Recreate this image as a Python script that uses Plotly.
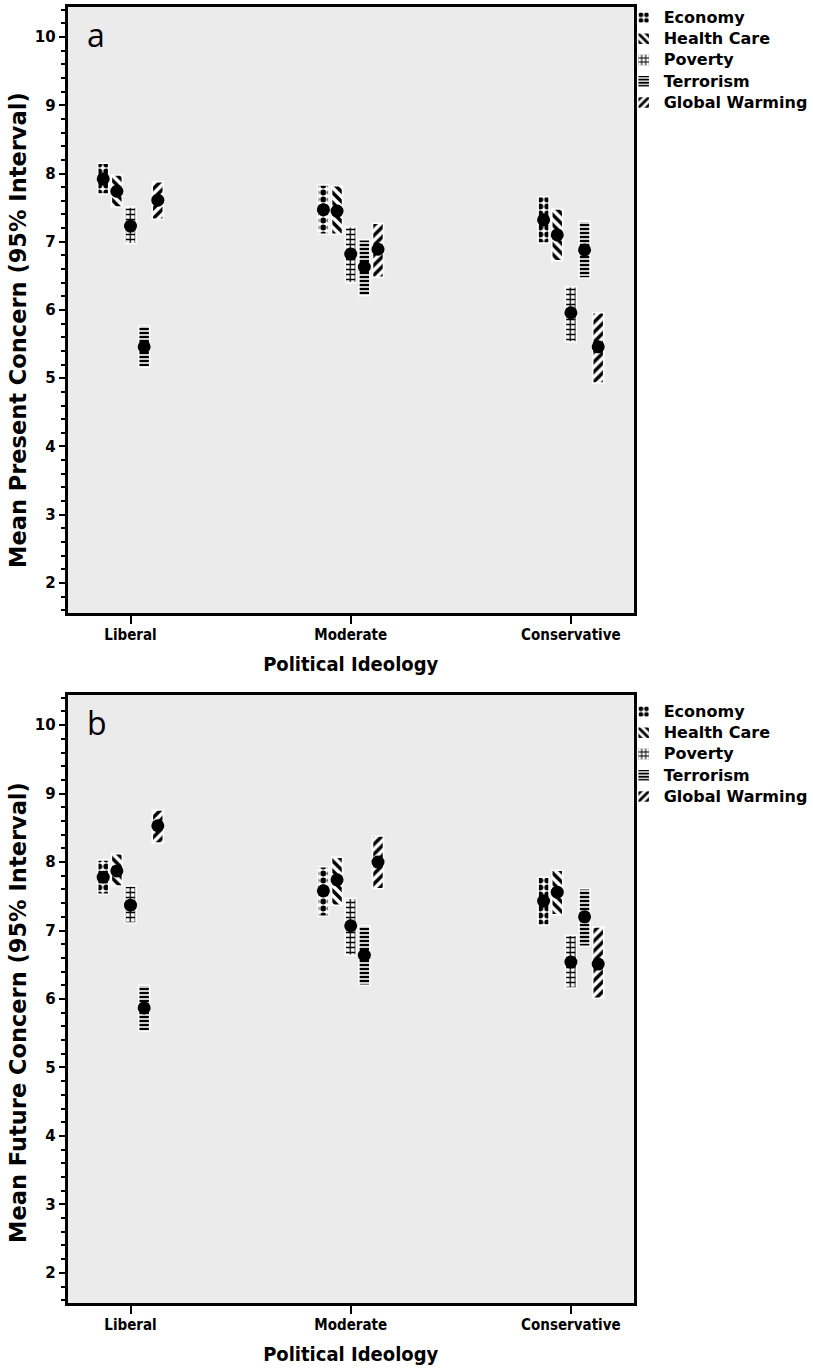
import plotly.graph_objects as go

ideology = ["Liberal", "Moderate", "Conservative"]
issues = ["Economy", "Health Care", "Poverty", "Terrorism", "Global Warming"]
patterns = [".", "\\", "+", "-", "/"]
pattern_size = [7, 7, 5, 4, 7]
pattern_solidity = [0.55, 0.5, 0.45, 0.6, 0.5]

# Panel a: present concern (rows = issues, cols = ideology)
present_mean = [[7.92, 7.47, 7.32], [7.74, 7.45, 7.10], [7.23, 6.82, 5.96],
                [5.46, 6.63, 6.88], [7.61, 6.89, 5.46]]
present_low = [[7.70, 7.11, 6.98], [7.51, 7.11, 6.72], [6.97, 6.40, 5.53],
               [5.16, 6.21, 6.47], [7.33, 6.48, 4.93]]
present_high = [[8.15, 7.83, 7.66], [7.98, 7.82, 7.48], [7.51, 7.22, 6.34],
                [5.77, 7.03, 7.30], [7.88, 7.27, 5.96]]

# Panel b: future concern
future_mean = [[7.78, 7.58, 7.43], [7.87, 7.74, 7.56], [7.37, 7.07, 6.54],
               [5.87, 6.64, 7.20], [8.53, 8.00, 6.51]]
future_low = [[7.53, 7.21, 7.08], [7.65, 7.37, 7.23], [7.11, 6.64, 6.16],
              [5.53, 6.20, 6.77], [8.28, 7.61, 6.01]]
future_high = [[8.03, 7.93, 7.78], [8.12, 8.07, 7.88], [7.65, 7.47, 6.93],
               [6.20, 7.07, 7.61], [8.76, 8.38, 7.05]]

y_ticks = [2, 3, 4, 5, 6, 7, 8, 9, 10]
y_titles = ["Mean Present Concern (95% Interval)", "Mean Future Concern (95% Interval)"]

W, H = 813, 1369
fig = go.Figure()

panels = [
    ("x", "y", "legend", present_mean, present_low, present_high),
    ("x2", "y2", "legend2", future_mean, future_low, future_high),
]
for xa, ya, leg, means, lows, highs in panels:
    for i, name in enumerate(issues):
        fig.add_trace(go.Bar(
            x=ideology, y=[h - l for h, l in zip(highs[i], lows[i])], base=lows[i],
            name="<span style='font-size:16px'>%s</span>" % name,
            offsetgroup=name, legendgroup=name, legend=leg,
            xaxis=xa, yaxis=ya,
            marker=dict(color="white", line=dict(color="white", width=1.5),
                        pattern=dict(shape=patterns[i], fgcolor="black", bgcolor="white",
                                     fgopacity=1, size=pattern_size[i],
                                     solidity=pattern_solidity[i],
                                     fillmode="replace")),
            hoverinfo="skip",
        ))
    for i, name in enumerate(issues):
        fig.add_trace(go.Scatter(
            x=ideology, y=means[i], mode="markers", offsetgroup=name,
            legendgroup=name, showlegend=False, xaxis=xa, yaxis=ya,
            marker=dict(color="black", size=13), hoverinfo="skip",
        ))

def px_x(p):
    return p / W

def px_y(p):
    return 1 - p / H

font_bold = dict(family="DejaVu Sans", color="black", weight="bold")
narrow_bold = dict(family="DejaVu Sans Condensed, DejaVu Sans", color="black", weight="bold")

xaxis_common = dict(
    type="category", range=[-0.285, 2.285], showline=True, linewidth=3,
    linecolor="black", mirror=True, ticks="outside", ticklen=8, tickwidth=2,
    tickcolor="black", showgrid=False, zeroline=False, ticklabelstandoff=-2,
    tickfont=dict(size=15, **narrow_bold),
    title=dict(text="Political Ideology", font=dict(size=20, **narrow_bold), standoff=14),
    domain=[px_x(68), px_x(636)],
)
yaxis_common = dict(
    range=[1.56, 10.44], tickvals=y_ticks, showline=True, linewidth=3,
    linecolor="black", mirror=True, ticks="outside", ticklen=6, tickwidth=2,
    tickcolor="black", showgrid=False, zeroline=False,
    tickfont=dict(size=15, **font_bold),
    minor=dict(dtick=0.2, tick0=0, ticks="outside", ticklen=4, tickwidth=1.5,
               tickcolor="black", showgrid=False),
)

legend_common = dict(xanchor="left", yanchor="top", font=dict(size=14, **font_bold),
                     bgcolor="rgba(0,0,0,0)", itemwidth=30, tracegroupgap=0)

fig.update_layout(
    width=W, height=H,
    margin=dict(l=0, r=0, t=0, b=0),
    paper_bgcolor="white", plot_bgcolor="#ebebeb",
    barmode="group", bargap=0.69, bargroupgap=0.2,
    scattermode="group", scattergap=0.69,
    xaxis=dict(xaxis_common, anchor="y"),
    xaxis2=dict(xaxis_common, anchor="y2"),
    yaxis=dict(yaxis_common, anchor="x", domain=[px_y(613), px_y(7)]),
    yaxis2=dict(yaxis_common, anchor="x2", domain=[px_y(1303), px_y(695)]),
    legend=dict(legend_common, x=px_x(626), y=px_y(2)),
    legend2=dict(legend_common, x=px_x(626), y=px_y(696)),
    showlegend=True,
    annotations=[
        dict(text="a", xref="x domain", yref="y domain", x=0.03, y=0.955,
             xanchor="left", yanchor="middle", showarrow=False,
             font=dict(family="Open Sans", size=32, color="black")),
        dict(text="b", xref="x2 domain", yref="y2 domain", x=0.03, y=0.955,
             xanchor="left", yanchor="middle", showarrow=False,
             font=dict(family="Open Sans", size=32, color="black")),
        dict(text=y_titles[0], xref="paper", yref="paper", x=px_x(18), y=px_y(330),
             xanchor="center", yanchor="middle", textangle=-90, showarrow=False,
             font=dict(size=22.5, **font_bold)),
        dict(text=y_titles[1], xref="paper", yref="paper", x=px_x(18), y=px_y(1012),
             xanchor="center", yanchor="middle", textangle=-90, showarrow=False,
             font=dict(size=22.5, **font_bold)),
    ],
)

fig.write_html(
    "out.html",
    config={"displayModeBar": False},
    post_script="document.body.style.margin='0';document.documentElement.style.overflow='hidden';",
)
